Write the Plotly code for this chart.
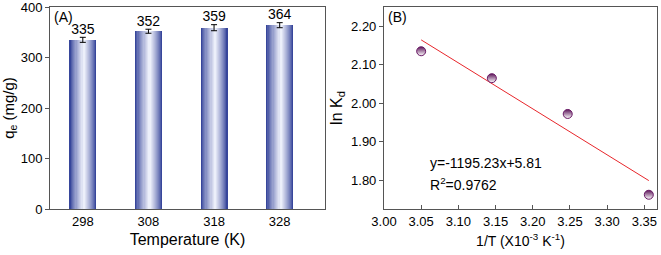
import plotly.graph_objects as go

# ---- data ----
temperatures = ["298", "308", "318", "328"]
qe_values = [335, 352, 359, 364]
qe_errors = [5, 4, 6, 5]

inv_T = [3.050, 3.145, 3.247, 3.356]
ln_Kd = [2.135, 2.065, 1.972, 1.762]
fit_slope = -1195.23
fit_intercept = 5.81
x_ticks_B = [3.00, 3.05, 3.10, 3.15, 3.20, 3.25, 3.30, 3.35]
y_ticks_B = [1.80, 1.90, 2.00, 2.10, 2.20]

FONT = "Liberation Sans, Arial, sans-serif"
AX = "#555555"

fig = go.Figure()

# gradient bars emulated by overlaid bars of decreasing width
dark = (55, 70, 155)
light = (236, 239, 250)
n = 12
full_w = 0.41
for i in range(n):
    t = i / (n - 1)
    t2 = t ** 0.8
    c = tuple(int(dark[k] + (light[k] - dark[k]) * t2) for k in range(3))
    w = full_w * (1 - i / n)
    fig.add_trace(go.Bar(
        x=temperatures, y=qe_values, width=w, offset=-w / 2 + 0.015 * t,
        marker=dict(color="rgb(%d,%d,%d)" % c, line=dict(width=0)),
        xaxis="x", yaxis="y", showlegend=False, hoverinfo="skip",
    ))
# error bars on top
fig.add_trace(go.Scatter(
    x=temperatures, y=qe_values, mode="markers",
    marker=dict(size=1, color="rgba(0,0,0,0)"),
    error_y=dict(type="data", array=qe_errors, color="black", thickness=1, width=3),
    xaxis="x", yaxis="y", showlegend=False,
))
# value labels
fig.add_trace(go.Scatter(
    x=temperatures, y=[v + e for v, e in zip(qe_values, qe_errors)],
    mode="text", text=[str(v) for v in qe_values], textposition="top center",
    textfont=dict(family=FONT, size=14, color="black"),
    xaxis="x", yaxis="y", showlegend=False,
))

# panel B
fit_x = [min(inv_T), max(inv_T)]
fit_y = [fit_slope * x / 1000 + fit_intercept for x in fit_x]
fig.add_trace(go.Scatter(
    x=fit_x, y=fit_y, mode="lines", line=dict(color="#e8262b", width=1),
    xaxis="x2", yaxis="y2", showlegend=False,
))
fig.add_trace(go.Scatter(
    x=inv_T, y=ln_Kd, mode="markers",
    marker=dict(symbol="circle", size=9, color="#5b1458",
                gradient=dict(type="vertical", color="white"),
                line=dict(color="#6a1a66", width=1)),
    xaxis="x2", yaxis="y2", showlegend=False,
))

axis_common = dict(showline=True, linecolor=AX, linewidth=1, mirror=True,
                   showgrid=False, zeroline=False, automargin=False,
                   ticklabeloverflow="allow",
                   tickfont=dict(family=FONT, size=13, color="black"))

fig.update_layout(
    width=661, height=255,
    margin=dict(l=50, r=4, t=7, b=46, autoexpand=False),
    paper_bgcolor="white", plot_bgcolor="white",
    barmode="overlay", bargap=0,
    font=dict(family=FONT, color="black"),
    xaxis=dict(domain=[0, 0.453], type="category", range=[-0.5, 3.69],
               ticks="", title=dict(text="Temperature (K)", font=dict(size=16), standoff=6),
               **axis_common),
    yaxis=dict(domain=[0, 1], range=[0, 400], dtick=100, ticks="outside", ticklen=4,
               tickcolor=AX, anchor="x",
               title=dict(text="q<sub>e</sub> (mg/g)", font=dict(size=15), standoff=4),
               **axis_common),
    xaxis2=dict(domain=[0.5502, 1], range=[3.0, 3.367], tickvals=x_ticks_B,
                tickformat=".2f", ticks="inside", ticklen=4, tickcolor=AX, anchor="y2",
                title=dict(text="1/T (X10<sup>-3</sup> K<sup>-1</sup>)", font=dict(size=14), standoff=8),
                **axis_common),
    yaxis2=dict(domain=[0, 1], range=[1.725, 2.25], tickvals=y_ticks_B,
                tickformat=".2f", ticks="outside", ticklen=4, tickcolor=AX, anchor="x2",
                title=dict(text="ln K<sub>d</sub>", font=dict(size=16), standoff=4),
                **axis_common),
    annotations=[
        dict(text="(A)", xref="paper", yref="paper", x=0.003, y=1.0, xanchor="left",
             yanchor="top", showarrow=False, font=dict(size=14)),
        dict(text="(B)", xref="paper", yref="paper", x=0.553, y=1.0, xanchor="left",
             yanchor="top", showarrow=False, font=dict(size=14)),
        dict(text="y=-1195.23x+5.81", xref="x2", yref="y2", x=3.059, y=1.8435,
             xanchor="left", yanchor="middle", showarrow=False, font=dict(size=14)),
        dict(text="R<sup>2</sup>=0.9762", xref="x2", yref="y2", x=3.059, y=1.791,
             xanchor="left", yanchor="middle", showarrow=False, font=dict(size=14)),
    ],
)

fig.write_html("out.html", config={"displayModeBar": False},
               post_script="document.body.style.margin='0';document.body.style.overflow='hidden';")
